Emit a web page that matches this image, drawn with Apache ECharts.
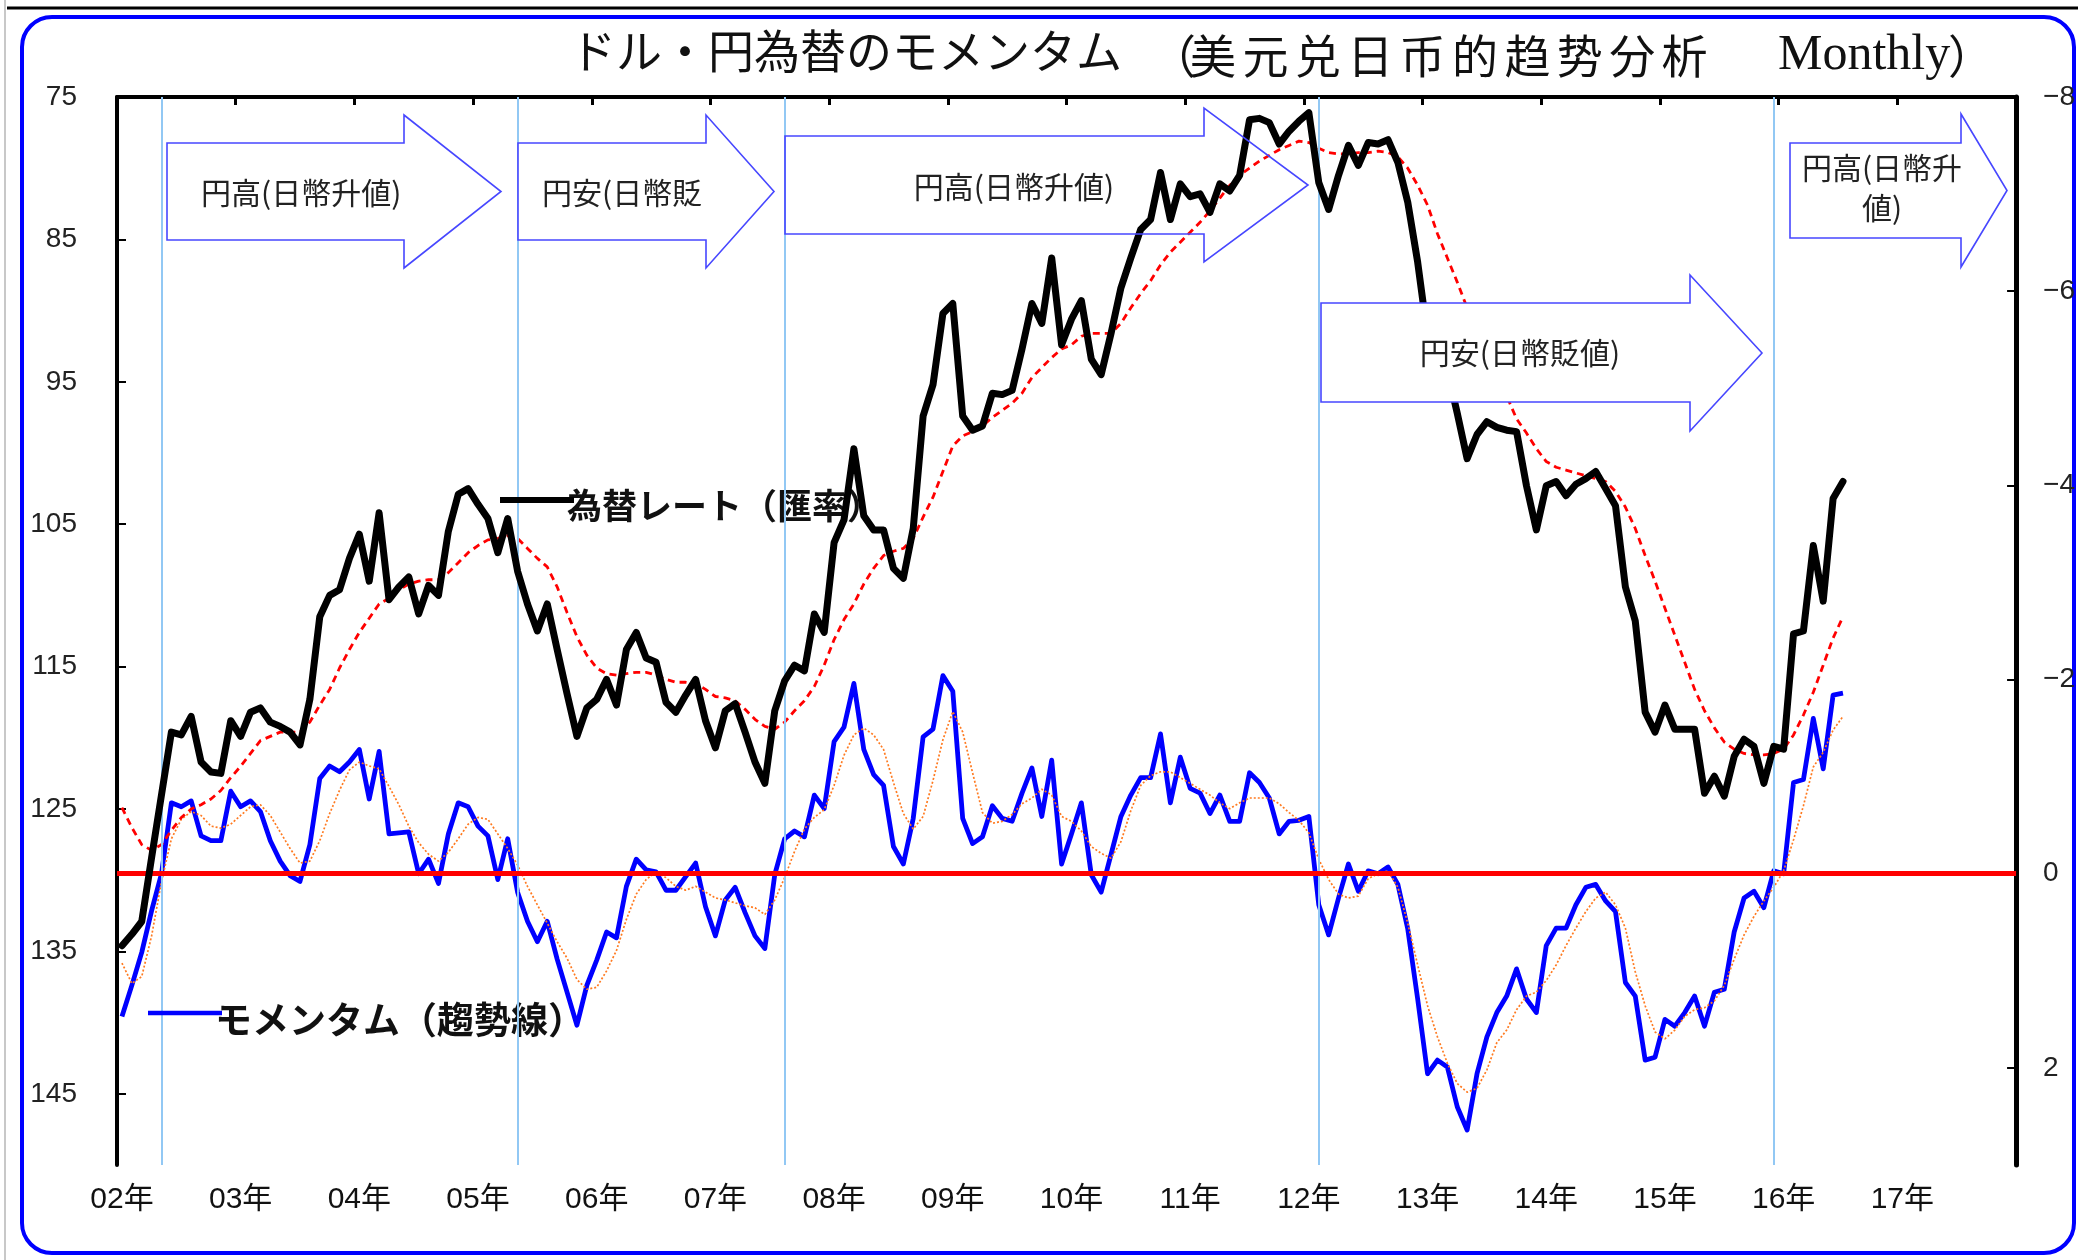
<!DOCTYPE html>
<html>
<head>
<meta charset="utf-8">
<script src="https://cdn.jsdelivr.net/npm/echarts@6/dist/echarts.min.js"></script>
<style>
  html, body { margin: 0; padding: 0; background: #fff; }
  #chart { width: 2078px; height: 1260px; }
</style>
</head>
<body>
<div id="chart"></div>
<script>
// year tick labels, one per 12 monthly categories
const yearLabels = ['02年', '03年', '04年', '05年', '06年', '07年', '08年', '09年',
  '10年', '11年', '12年', '13年', '14年', '15年', '16年', '17年']

const months = []
yearLabels.forEach((label, k) => {
  for (let m = 1; m <= 12; m++) months.push(String(2002 + k) + '-' + String(m).padStart(2, '0'))
})

// USD/JPY month-end rate (left axis, inverted)
const rate = [
  134.6, 133.8, 132.9, 128.4, 124.0, 119.6, 119.8, 118.5, 121.7, 122.4, 122.5, 118.8,
  119.9, 118.2, 117.9, 118.9, 119.2, 119.6, 120.5, 117.3, 111.5, 110.0, 109.6, 107.4,
  105.7, 109.0, 104.2, 110.3, 109.4, 108.7, 111.3, 109.3, 110.0, 105.5, 102.9, 102.5,
  103.6, 104.6, 107.0, 104.6, 108.3, 110.6, 112.5, 110.6, 113.8, 116.9, 119.9, 117.9,
  117.3, 115.9, 117.7, 113.8, 112.6, 114.4, 114.7, 117.5, 118.2, 117.0, 115.9, 118.8,
  120.7, 118.1, 117.6, 119.6, 121.7, 123.2, 118.1, 116.0, 114.9, 115.3, 111.3, 112.6,
  106.3, 104.7, 99.7, 104.4, 105.4, 105.4, 108.1, 108.8, 105.3, 97.4, 95.2, 90.2,
  89.5, 97.4, 98.4, 98.1, 95.8, 95.9, 95.6, 92.7, 89.5, 90.9, 86.3, 92.4,
  90.6, 89.3, 93.4, 94.5, 91.6, 88.4, 86.3, 84.3, 83.6, 80.3, 83.6, 81.1,
  82.0, 81.8, 83.1, 81.1, 81.6, 80.5, 76.6, 76.5, 76.8, 78.3, 77.4, 76.7,
  76.1, 81.0, 82.9, 80.5, 78.4, 79.8, 78.2, 78.3, 78.0, 79.6, 82.4, 86.6,
  91.8, 92.6, 94.2, 97.2, 100.4, 98.7, 97.8, 98.2, 98.4, 98.5, 102.3, 105.4,
  102.3, 102.0, 103.0, 102.2, 101.8, 101.3, 102.5, 103.7, 109.4, 111.8, 118.2, 119.6,
  117.7, 119.4, 119.4, 119.4, 123.9, 122.7, 124.1, 121.3, 120.1, 120.6, 123.2, 120.6,
  120.8, 112.7, 112.5, 106.5, 110.4, 103.2, 102.0
]

// red dashed average of the rate
const rateAvg = [
  124.9, 126.3, 127.5, 127.9, 127.5, 126.5, 125.6, 125.0, 124.7, 124.3, 123.7, 122.8,
  122.0, 121.1, 120.2, 119.9, 119.6, 119.6, 119.6, 118.9, 117.7, 116.6, 115.1, 113.8,
  112.6, 111.6, 110.6, 110.2, 109.6, 109.2, 109.0, 108.9, 108.9, 108.4, 107.7, 107.0,
  106.5, 106.1, 106.0, 105.8, 106.0, 106.7, 107.4, 108.0, 109.4, 111.2, 112.9, 114.2,
  115.1, 115.5, 115.6, 115.5, 115.4, 115.4, 115.6, 115.9, 116.1, 116.1, 116.2, 116.6,
  117.1, 117.2, 117.4, 118.0, 118.7, 119.2, 119.4, 118.9, 118.1, 117.4, 116.4, 114.9,
  113.1, 111.7, 110.6, 109.2, 108.1, 107.2, 106.9, 106.7, 106.0, 104.5, 103.1, 101.3,
  99.5, 98.8, 98.5, 98.1, 97.5, 97.0, 96.5, 95.8, 94.7, 94.0, 93.3, 92.7,
  92.4, 91.8, 91.6, 91.6, 91.6, 90.9, 89.8, 88.8, 87.9, 86.8, 85.9, 85.2,
  84.5, 83.8, 83.0, 82.1, 81.2, 80.5, 80.0, 79.5, 79.1, 78.7, 78.4, 78.1,
  78.2, 78.6, 78.9, 79.0, 79.0, 78.9, 78.9, 78.8, 78.9, 79.2, 80.0, 81.2,
  82.6, 84.6, 86.3, 88.0, 89.8, 91.6, 93.2, 94.8, 96.0, 97.6, 98.6, 99.7,
  100.6, 101.0, 101.2, 101.4, 101.6, 101.8, 102.0, 102.7, 103.8, 105.3, 107.2, 109.0,
  110.9, 112.8, 114.7, 116.6, 118.1, 119.3, 120.3, 120.8, 121.1, 121.2, 121.2, 121.1,
  120.8, 119.8, 118.4, 116.8, 114.9, 113.0, 111.5
]

// momentum (right axis, inverted)
const momentum = [
  1.47, 1.15, 0.81, 0.38, 0.00, -0.73, -0.69, -0.75, -0.39, -0.34, -0.34, -0.85,
  -0.69, -0.75, -0.64, -0.34, -0.13, 0.02, 0.08, -0.30, -0.98, -1.11, -1.05, -1.15,
  -1.28, -0.77, -1.26, -0.41, -0.42, -0.43, 0.00, -0.15, 0.10, -0.41, -0.73, -0.69,
  -0.49, -0.39, 0.06, -0.36, 0.19, 0.49, 0.70, 0.49, 0.88, 1.22, 1.56, 1.15,
  0.89, 0.60, 0.66, 0.13, -0.15, -0.04, -0.02, 0.17, 0.17, 0.03, -0.11, 0.34,
  0.64, 0.27, 0.14, 0.40, 0.64, 0.77, 0.01, -0.36, -0.44, -0.38, -0.81, -0.67,
  -1.36, -1.51, -1.96, -1.28, -1.02, -0.91, -0.28, -0.10, -0.57, -1.41, -1.49, -2.04,
  -1.88, -0.57, -0.31, -0.38, -0.70, -0.57, -0.54, -0.83, -1.09, -0.59, -1.17, -0.10,
  -0.41, -0.73, 0.01, 0.19, -0.20, -0.59, -0.81, -0.99, -0.99, -1.44, -0.73, -1.20,
  -0.88, -0.83, -0.62, -0.81, -0.54, -0.54, -1.04, -0.94, -0.78, -0.41, -0.54, -0.55,
  -0.59, 0.32, 0.63, 0.25, -0.10, 0.18, -0.03, 0.00, -0.07, 0.11, 0.57, 1.29,
  2.06, 1.92, 1.99, 2.40, 2.64, 2.06, 1.68, 1.43, 1.26, 0.98, 1.29, 1.43,
  0.74, 0.56, 0.56, 0.32, 0.14, 0.11, 0.28, 0.39, 1.12, 1.26, 1.92, 1.89,
  1.50, 1.57, 1.43, 1.26, 1.57, 1.22, 1.19, 0.60, 0.25, 0.18, 0.35, -0.03,
  0.00, -0.94, -0.97, -1.60, -1.08, -1.84, -1.86
]

// orange dotted average of the momentum
const momentumAvg = [
  0.92, 1.13, 1.06, 0.64, 0.08, -0.36, -0.56, -0.64, -0.60, -0.49, -0.47, -0.51,
  -0.60, -0.69, -0.71, -0.60, -0.43, -0.26, -0.11, -0.13, -0.34, -0.62, -0.86, -1.07,
  -1.15, -1.11, -1.08, -0.90, -0.71, -0.49, -0.32, -0.20, -0.13, -0.22, -0.36, -0.51,
  -0.58, -0.56, -0.41, -0.26, -0.09, 0.13, 0.32, 0.51, 0.70, 0.87, 1.09, 1.19,
  1.17, 1.00, 0.79, 0.47, 0.21, 0.06, -0.02, 0.04, 0.13, 0.17, 0.13, 0.19,
  0.25, 0.27, 0.30, 0.33, 0.35, 0.42, 0.27, 0.04, -0.23, -0.46, -0.58, -0.66,
  -0.91, -1.22, -1.43, -1.50, -1.43, -1.28, -0.94, -0.62, -0.46, -0.59, -0.96, -1.38,
  -1.67, -1.46, -1.04, -0.63, -0.52, -0.54, -0.61, -0.72, -0.78, -0.87, -0.81, -0.59,
  -0.54, -0.44, -0.28, -0.21, -0.16, -0.33, -0.65, -0.91, -1.01, -1.05, -1.05, -0.99,
  -0.93, -0.87, -0.81, -0.73, -0.67, -0.73, -0.78, -0.78, -0.78, -0.72, -0.63, -0.55,
  -0.42, -0.15, 0.06, 0.21, 0.25, 0.23, 0.05, 0.00, -0.03, 0.14, 0.51, 0.94,
  1.36, 1.68, 1.95, 2.16, 2.25, 2.21, 2.02, 1.74, 1.61, 1.40, 1.26, 1.22,
  1.10, 0.94, 0.74, 0.56, 0.39, 0.25, 0.19, 0.32, 0.56, 1.01, 1.36, 1.63,
  1.70, 1.61, 1.47, 1.40, 1.38, 1.31, 1.15, 0.88, 0.63, 0.44, 0.28, 0.14,
  -0.03, -0.35, -0.70, -1.10, -1.25, -1.48, -1.62
]

// months where the trend turns (light blue verticals)
const turnMonths = ['2002-05', '2005-05', '2007-08', '2012-02', '2015-12']

const labelFont = "'Liberation Sans', 'Noto Sans CJK JP', sans-serif"
const cjkFont = "'Noto Sans CJK JP', sans-serif"
const serifFont = "'Liberation Serif', 'Noto Sans CJK JP', serif"
const arrowStroke = '#4747ff'

const arrow = (x0, y0, x1, y1, headTop, headBottom, tip, fill, z) => ({
  type: 'polygon',
  z,
  shape: {
    points: [[x0, y0], [x1, y0], [x1, headTop], [tip, (headTop + headBottom) / 2],
      [x1, headBottom], [x1, y1], [x0, y1]],
  },
  style: { fill, stroke: arrowStroke, lineWidth: 1.6 },
})

const note = (text, x, y, align, z) => ({
  type: 'text',
  z,
  x,
  y,
  style: {
    text,
    fontSize: 30,
    fontFamily: cjkFont,
    fill: '#222',
    align,
    verticalAlign: 'middle',
  },
})

const titlePiece = (text, x, size, font) => ({
  type: 'text',
  z: 20,
  x,
  y: 56,
  style: { text, fontSize: size, fontFamily: font, fill: '#111', align: 'left', verticalAlign: 'middle' },
})

// the chinese part of the title is set wider than the japanese part
const titleCn = '（美元兑日币的趋势分析'
const titleCnPieces = titleCn.split('').map((ch, k) =>
  titlePiece(ch, k === 0 ? 1150 : 1190 + (k - 1) * 52.4, 46, cjkFont))

const chart = echarts.init(document.getElementById('chart'))

chart.setOption({
  animation: false,
  backgroundColor: '#fff',
  grid: { left: 117, right: 57, top: 97, bottom: 95, containLabel: false },
  xAxis: [
    {
      type: 'category',
      data: months,
      boundaryGap: true,
      position: 'bottom',
      axisLine: { lineStyle: { color: '#000', width: 4 } },
      axisTick: { show: false },
      axisLabel: {
        interval: 11,
        margin: 20,
        fontSize: 30,
        fontFamily: labelFont,
        color: '#111',
        formatter: (v, idx) => yearLabels[Math.floor(idx / 12)],
      },
      splitLine: { show: false },
    },
    {
      type: 'category',
      data: months,
      boundaryGap: true,
      position: 'top',
      axisLine: { lineStyle: { color: '#000', width: 4 } },
      axisTick: { show: true, inside: true, interval: 11, length: 8, lineStyle: { color: '#000', width: 3 } },
      axisLabel: { show: false },
      splitLine: { show: false },
    },
  ],
  yAxis: [
    {
      type: 'value',
      inverse: true,
      min: 75,
      max: 150,
      interval: 10,
      position: 'left',
      axisLine: { show: true, lineStyle: { color: '#000', width: 4 } },
      axisTick: { show: true, inside: true, length: 9, lineStyle: { color: '#000', width: 2 } },
      axisLabel: { showMaxLabel: false, margin: 40, fontSize: 28, fontFamily: labelFont, color: '#222' },
      splitLine: { show: false },
    },
    {
      type: 'value',
      inverse: true,
      min: -8,
      max: 3,
      interval: 2,
      position: 'right',
      axisLine: { show: true, lineStyle: { color: '#000', width: 5 } },
      axisTick: { show: true, inside: true, length: 9, lineStyle: { color: '#000', width: 2 } },
      axisLabel: {
        showMaxLabel: false,
        margin: 27,
        fontSize: 28,
        fontFamily: labelFont,
        color: '#222',
        formatter: (v) => (v < 0 ? '\u2212' + (-v) : String(v)),
      },
      splitLine: { show: false },
    },
  ],
  series: [
    {
      name: 'turns',
      type: 'line',
      data: [],
      z: 1,
      silent: true,
      markLine: {
        silent: true,
        symbol: ['none', 'none'],
        label: { show: false },
        lineStyle: { color: '#92c8f4', width: 2, type: 'solid' },
        data: turnMonths.map((m) => ({ xAxis: m })),
      },
    },
    {
      name: 'モメンタム',
      type: 'line',
      yAxisIndex: 1,
      data: momentum,
      symbol: 'none',
      z: 3,
      lineStyle: { color: '#0000ff', width: 4.8, join: 'round' },
      itemStyle: { color: '#0000ff' },
    },
    {
      name: 'モメンタム平均',
      type: 'line',
      yAxisIndex: 1,
      data: momentumAvg,
      symbol: 'none',
      z: 3,
      lineStyle: { color: '#ff7a20', width: 1.7, type: [2, 2] },
      itemStyle: { color: '#ff7a20' },
    },
    {
      name: 'zero',
      type: 'line',
      yAxisIndex: 1,
      data: [],
      z: 4,
      silent: true,
      markLine: {
        silent: true,
        symbol: ['none', 'none'],
        label: { show: false },
        lineStyle: { color: '#ff0000', width: 5, type: 'solid' },
        data: [{ yAxis: 0 }],
      },
    },
    {
      name: '為替レート平均',
      type: 'line',
      data: rateAvg,
      symbol: 'none',
      z: 4,
      lineStyle: { color: '#ff0000', width: 2.8, type: [7, 5] },
      itemStyle: { color: '#ff0000' },
    },
    {
      name: '為替レート',
      type: 'line',
      data: rate,
      symbol: 'none',
      z: 5,
      lineStyle: { color: '#000', width: 7, join: 'round', cap: 'round' },
      itemStyle: { color: '#000' },
    },
  ],
  graphic: [
    // page edges
    { type: 'line', z: 0, shape: { x1: 5, y1: 0, x2: 5, y2: 1260 }, style: { stroke: '#c8c8c8', lineWidth: 2 } },
    { type: 'line', z: 0, shape: { x1: 7, y1: 8, x2: 2078, y2: 8 }, style: { stroke: '#000', lineWidth: 3 } },
    // outer rounded frame
    {
      type: 'rect',
      z: 0,
      shape: { x: 22, y: 17, width: 2052, height: 1236, r: 30 },
      style: { fill: 'none', stroke: '#0000ff', lineWidth: 4 },
    },
    // title
    titlePiece('ドル・円為替のモメンタム', 570, 46, serifFont),
    ...titleCnPieces,
    titlePiece('Monthly', 1778, 50, serifFont),
    titlePiece('）', 1948, 46, cjkFont),
    // trend arrows
    arrow(167, 143, 404, 240, 115, 268, 501, '#fff', 10),
    note('円高(日幣升値)', 201, 193, 'left', 11),
    arrow(518, 143, 706, 240, 115, 268, 774, '#fff', 10),
    note('円安(日幣貶', 542, 193, 'left', 11),
    arrow(785, 136, 1204, 234, 108, 262, 1308, 'none', 10),
    note('円高(日幣升値)', 1014, 187, 'center', 11),
    arrow(1321, 303, 1690, 402, 275, 431, 1762, '#fff', 10),
    note('円安(日幣貶値)', 1520, 353, 'center', 11),
    arrow(1790, 143, 1961, 238, 114, 267, 2007, '#fff', 10),
    note('円高(日幣升', 1882, 168, 'center', 11),
    note('値)', 1882, 208, 'center', 11),
    // series captions
    { type: 'line', z: 6, shape: { x1: 500, y1: 500, x2: 574, y2: 500 }, style: { stroke: '#000', lineWidth: 6 } },
    {
      type: 'text',
      z: 1,
      x: 567,
      y: 506,
      style: { text: '為替レート（匯率）', fontSize: 35, fontWeight: 'bold', fontFamily: cjkFont, fill: '#111', align: 'left', verticalAlign: 'middle' },
    },
    { type: 'line', z: 6, shape: { x1: 148, y1: 1013, x2: 222, y2: 1013 }, style: { stroke: '#0000ff', lineWidth: 4.5 } },
    {
      type: 'text',
      z: 1,
      x: 215,
      y: 1020,
      style: { text: 'モメンタム（趨勢線）', fontSize: 37, fontWeight: 'bold', fontFamily: cjkFont, fill: '#111', align: 'left', verticalAlign: 'middle' },
    },
  ],
})
</script>
</body>
</html>
